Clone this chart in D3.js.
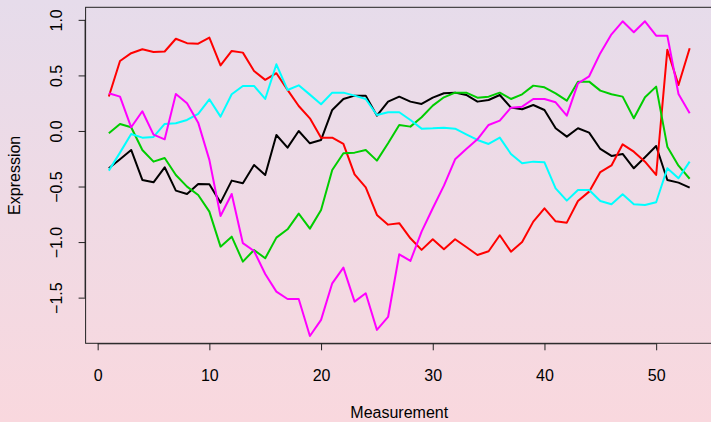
<!DOCTYPE html>
<html><head><meta charset="utf-8">
<script src="https://cdn.jsdelivr.net/npm/d3@7"></script>
<style>html,body{margin:0;padding:0;overflow:hidden;}svg{display:block;}</style>
</head><body>
<script>
const measurements = d3.range(1, 54);
const xTicks = [0, 10, 20, 30, 40, 50];
const yTicks = [-1.5, -1.0, -0.5, 0.0, 0.5, 1.0];
const yTickLabels = ["\u22121.5", "\u22121.0", "\u22120.5", "0.0", "0.5", "1.0"];
const seriesColors = ["#000000", "#ff0000", "#00cd00", "#00ffff", "#ff00ff"];
const black = [-0.336,-0.255,-0.171,-0.441,-0.462,-0.327,-0.537,-0.567,-0.477,-0.48,-0.645,-0.447,-0.471,-0.306,-0.396,-0.036,-0.15,0.0,-0.111,-0.081,0.189,0.288,0.318,0.318,0.138,0.264,0.309,0.264,0.243,0.30,0.339,0.345,0.324,0.264,0.279,0.324,0.21,0.195,0.234,0.189,0.024,-0.051,0.024,-0.015,-0.162,-0.225,-0.207,-0.336,-0.237,-0.135,-0.441,-0.465,-0.51];
const red = [0.31,0.63,0.70,0.735,0.71,0.715,0.83,0.79,0.786,0.84,0.59,0.72,0.705,0.54,0.46,0.52,0.37,0.225,0.114,-0.06,-0.06,-0.117,-0.39,-0.507,-0.756,-0.843,-0.83,-0.966,-1.07,-0.975,-1.065,-0.975,-1.044,-1.116,-1.083,-0.939,-1.086,-0.999,-0.816,-0.696,-0.813,-0.825,-0.63,-0.546,-0.37,-0.31,-0.12,-0.186,-0.276,-0.396,0.73,0.414,0.744];
const green = [-0.021,0.063,0.033,-0.171,-0.276,-0.243,-0.396,-0.501,-0.576,-0.726,-1.041,-0.951,-1.176,-1.071,-1.146,-0.96,-0.885,-0.744,-0.879,-0.711,-0.351,-0.201,-0.195,-0.171,-0.267,-0.111,0.054,0.039,0.123,0.228,0.303,0.345,0.345,0.30,0.309,0.345,0.288,0.33,0.408,0.393,0.339,0.273,0.444,0.444,0.363,0.33,0.309,0.114,0.303,0.399,-0.141,-0.312,-0.43];
const cyan = [-0.357,-0.195,-0.027,-0.06,-0.054,0.063,0.069,0.099,0.153,0.285,0.129,0.33,0.405,0.405,0.288,0.60,0.369,0.411,0.327,0.24,0.345,0.345,0.318,0.288,0.144,0.168,0.168,0.099,0.021,0.024,0.03,0.021,-0.03,-0.081,-0.117,-0.06,-0.207,-0.291,-0.276,-0.282,-0.516,-0.627,-0.531,-0.531,-0.63,-0.66,-0.57,-0.66,-0.666,-0.642,-0.336,-0.426,-0.276];
const magenta = [0.339,0.309,0.033,0.177,-0.033,-0.075,0.333,0.249,0.075,-0.26,-0.765,-0.567,-1.01,-1.08,-1.287,-1.446,-1.512,-1.512,-1.845,-1.70,-1.371,-1.23,-1.536,-1.461,-1.79,-1.674,-1.11,-1.17,-0.906,-0.696,-0.492,-0.255,-0.162,-0.075,0.054,0.093,0.21,0.219,0.288,0.288,0.258,0.138,0.429,0.492,0.70,0.87,0.987,0.888,0.987,0.858,0.858,0.333,0.159];
const seriesList = [black, red, green, cyan, magenta];

const W = 711, H = 422;
const svg = d3.select("body").append("svg").attr("width", W).attr("height", H);
const defs = svg.append("defs");
const grad = defs.append("linearGradient").attr("id", "bg").attr("x1", 0).attr("y1", 0).attr("x2", 0).attr("y2", 1);
grad.append("stop").attr("offset", "0%").attr("stop-color", "#e6dceb");
grad.append("stop").attr("offset", "100%").attr("stop-color", "#f9d8de");
svg.append("rect").attr("width", W).attr("height", H).attr("fill", "url(#bg)");

const L = 85.6, R = 712.9, T = 7.3, B = 343.3;
const x = d3.scaleLinear().domain([-1.08, 55.08]).range([L, R]);
const y = d3.scaleLinear().domain([-1.911, 1.113]).range([B, T]);

const font = "'Liberation Sans', Arial, Helvetica, sans-serif";
const fs = 16;

const line = d3.line().x((d, i) => x(measurements[i])).y(d => y(d));
const g = svg.append("g");
seriesList.forEach((s, k) => {
  g.append("path").attr("d", line(s)).attr("fill", "none")
    .attr("stroke", seriesColors[k]).attr("stroke-width", 2).attr("stroke-linejoin", "round");
});

// box
svg.append("rect").attr("x", L).attr("y", T).attr("width", R - L).attr("height", B - T)
  .attr("fill", "none").attr("stroke", "#222").attr("stroke-width", 1);

// x axis
const xa = svg.append("g").attr("transform", `translate(0,${B})`)
  .call(d3.axisBottom(x).tickValues(xTicks).tickSize(7).tickFormat(d3.format("d")));
xa.select(".domain").attr("d", `M${x(0)},0.5H${x(50)}`).attr("stroke", "#222");
xa.selectAll(".tick line").attr("stroke", "#222");
xa.selectAll("text").attr("font-family", font).attr("font-size", fs).attr("fill", "#000")
  .attr("y", 380.7 - B).attr("dy", null);

// y axis
const ya = svg.append("g").attr("transform", `translate(${L},0)`)
  .call(d3.axisLeft(y).tickValues(yTicks).tickSize(7).tickFormat((d, i) => yTickLabels[i]));
ya.select(".domain").attr("d", `M-0.5,${y(-1.5)}V${y(1.0)}`).attr("stroke", "#222");
ya.selectAll(".tick line").attr("stroke", "#222");
ya.selectAll("text").attr("font-family", font).attr("font-size", fs).attr("fill", "#000")
  .attr("x", null).attr("dy", null)
  .attr("text-anchor", "middle")
  .attr("transform", `translate(${61.7 - L},0) rotate(-90)`);

svg.append("text").attr("x", (L + R) / 2).attr("y", 418.4).attr("text-anchor", "middle")
  .attr("font-family", font).attr("font-size", fs).text("Measurement");
svg.append("text").attr("transform", `translate(20,${(T + B) / 2}) rotate(-90)`).attr("text-anchor", "middle")
  .attr("font-family", font).attr("font-size", fs).text("Expression");
</script>
</body></html>
